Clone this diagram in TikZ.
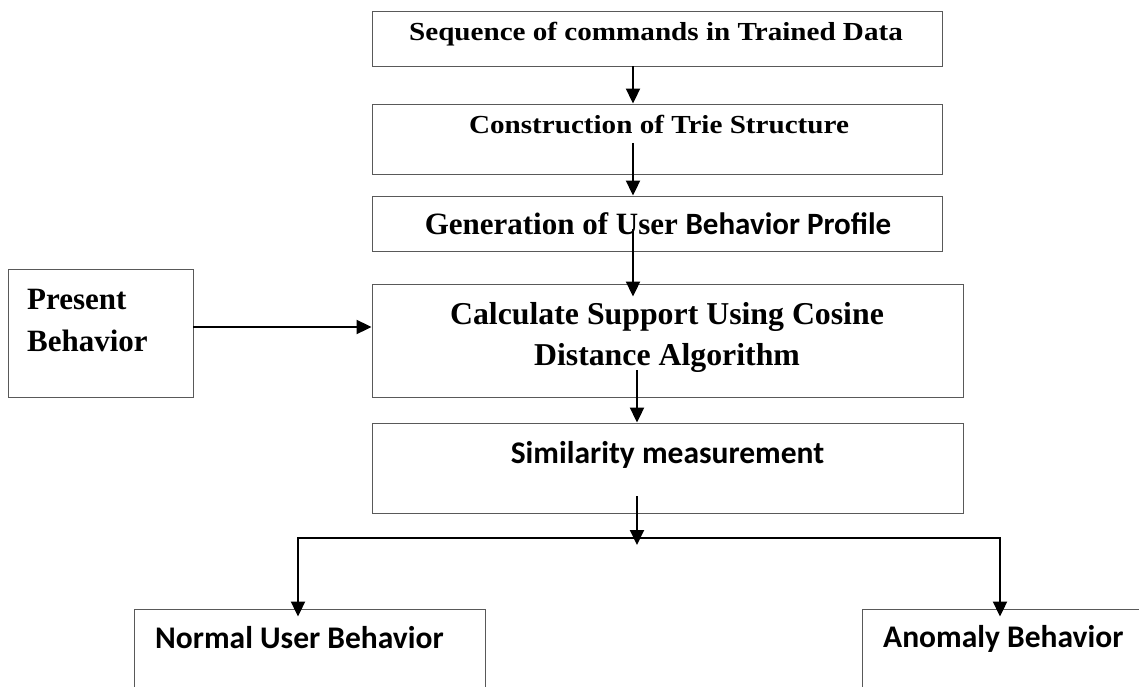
\documentclass[tikz,border=0pt]{standalone}
\usepackage{graphicx}
\usepackage{fontspec}
\setmainfont{Liberation Serif}
\newfontfamily\calibri{Carlito}
\usetikzlibrary{arrows.meta,positioning,calc}

% slightly widened lettering for the two top boxes
\newcommand{\widetext}[1]{\scalebox{1.12}[1]{#1}}

\begin{document}
\begin{tikzpicture}[x=1pt, y=-1pt,
  box/.style={rectangle, draw=black!65, line width=0.9pt, inner sep=0pt},
  serif/.style={anchor=base, inner sep=0pt, font=\bfseries\fontsize{31}{36}\selectfont},
  wide/.style={anchor=base, inner sep=0pt, font=\bfseries\fontsize{26}{30}\selectfont},
  sans/.style={anchor=base, inner sep=0pt, font=\calibri\bfseries\fontsize{31.5}{36}\selectfont},
  arr/.style={-{Triangle[length=15pt, width=14pt]}, line width=2pt},
  link/.style={line width=2pt}
]
  \useasboundingbox (0,0) rectangle (1139,687);
  \clip (0,0) rectangle (1139,687);

  % main column
  \node[box, minimum width=570pt, minimum height=55pt] (seq) at (657,38.5) {};
  \node[box, minimum width=570pt, minimum height=70pt] (trie) at (657,139) {};
  \node[box, minimum width=570pt, minimum height=55pt] (profile) at (657,223.5) {};
  \node[box, minimum width=591pt, minimum height=113pt] (calc) at (667.5,340.5) {};
  \node[box, minimum width=591pt, minimum height=90pt] (sim) at (667.5,468) {};

  \node[wide] (seq-t) at (656,41) {\widetext{Sequence of commands in Trained Data}};
  \node[wide] (trie-t) at (659,134) {\widetext{Construction of Trie Structure}};
  \node[serif] (profile-t) at (658,234) {Generation of User {\calibri Behavior Profile}};
  % two-line labels sit on the baseline of their last line
  \node[serif, font=\bfseries\fontsize{31.8}{41}\selectfont, align=center] (calc-t) at (667,365)
    {Calculate Support Using Cosine\\Distance Algorithm};
  \node[sans] (sim-t) at (667.5,463) {Similarity measurement};

  % side input
  \node[box, minimum width=185pt, minimum height=128pt] (present) at (100.5,333) {};
  \node[serif, font=\bfseries\fontsize{31}{42}\selectfont, anchor=base west, align=left] (present-t) at (27,351)
    {Present\\Behavior};

  % outcomes
  \node[box, minimum width=351pt, minimum height=130pt] (normal) at (309.5,674) {};
  \node[box, minimum width=330pt, minimum height=130pt] (anomaly) at (1027,674) {};
  \node[sans, anchor=base west] (normal-t) at (155,648) {Normal User Behavior};
  \node[sans, anchor=base west] (anomaly-t) at (883,647) {Anomaly Behavior};

  \coordinate (split) at (637,538);
  \coordinate (lft) at (298,538);
  \coordinate (rgt) at (1000,538);

  \draw[arr] ([xshift=-24pt]seq.south) -- ([xshift=-24pt]trie.north);
  \draw[arr] ([xshift=-24pt, yshift=-4pt]trie.center) -- ([xshift=-24pt]profile.north);
  \draw[arr] ([xshift=-24pt, yshift=-5.5pt]profile.center) -- ([xshift=-34.5pt, yshift=-13pt]calc.north);
  \draw[arr] ([xshift=-30.5pt, yshift=-29.5pt]calc.center) -- ([xshift=-30.5pt]sim.north);
  \draw[arr] ([xshift=-30.5pt, yshift=-28pt]sim.center) -- ([yshift=-7pt]split);
  \draw[arr] ([yshift=6pt]present.east) -- ([yshift=6pt]present.east -| calc.west);

  \draw[link] ([xshift=-1pt]lft) -- ([xshift=1pt]rgt);
  \draw[arr] (lft) -- ([yshift=-8pt]normal.north -| lft);
  \draw[arr] (rgt) -- ([yshift=-8pt]anomaly.north -| rgt);
\end{tikzpicture}
\end{document}
